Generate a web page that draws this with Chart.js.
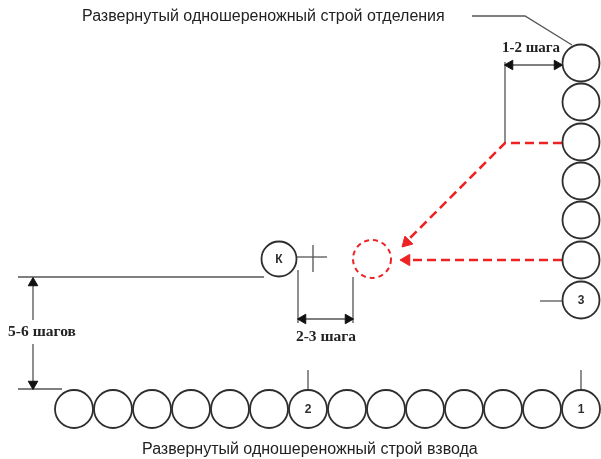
<!DOCTYPE html>
<html>
<head>
<meta charset="utf-8">
<script src="https://cdn.jsdelivr.net/npm/chart.js@4/dist/chart.umd.min.js"></script>
<style>
  html, body { margin: 0; padding: 0; background: #ffffff; }
  #wrap { width: 601px; height: 459px; position: relative; }
</style>
</head>
<body>
<div id="wrap"><canvas id="c"></canvas></div>
<script>
// ---- Data (diagram units = picture pixels) ----
const platoonX = [74, 113, 152, 191, 230, 269, 308, 347, 386, 425, 464, 503, 542, 581];
const platoonY = [409, 409, 409, 409, 409, 409, 409, 409, 409, 409, 409, 409, 409, 409];
const platoonLabels = ["", "", "", "", "", "", "2", "", "", "", "", "", "", "1"];

const squadX = [581, 581, 581, 581, 581, 581, 581];
const squadY = [63, 102, 142, 181, 220, 260, 300];
const squadLabels = ["", "", "", "", "", "", "3"];

const leaderX = [279];
const leaderY = [259];
const leaderLabels = ["К"];

const targetX = [372];
const targetY = [259];

// Black guide lines: each entry is a polyline [[x,y],[x,y],...]
const blackLines = [
  [[472, 16], [525, 16], [572, 45]],
  [[505, 62], [505, 142]],
  [[505, 65], [562, 65]],
  [[540, 301], [562, 301]],
  [[18, 277], [264, 277]],
  [[297, 257], [327, 257]],
  [[313, 245], [313, 272]],
  [[298, 270], [298, 323]],
  [[353, 277], [353, 323]],
  [[298, 319], [353, 319]],
  [[33, 278], [33, 320]],
  [[33, 344], [33, 388]],
  [[18, 389], [62, 389]],
  [[308, 370], [308, 390]],
  [[581, 370], [581, 390]]
];
// Red movement paths
const redLines = [
  [[562, 143], [505, 143], [405, 243]],
  [[562, 260], [404, 260]]
];
// Arrow heads: [x, y, rotation in degrees]
const blackHeads = [[510, 65, 270], [557, 65, 90], [303, 319, 270], [348, 319, 90], [33, 283, 0], [33, 384, 180]];
const redHeads = [[406.6, 242.4, 225], [406.5, 260, 270]];

// Text labels
const labelTexts = [
  "Развернутый одношереножный строй отделения",
  "Развернутый одношереножный строй взвода",
  "1-2 шага",
  "2-3 шага",
  "5-6 шагов"
];
const labelX = [82, 142, 531, 326, 42];
const labelY = [17, 450, 48, 337, 332];
const labelAlign = ["left", "left", "center", "center", "center"];
const labelFont = [
  "16px 'Liberation Sans', Arial, sans-serif",
  "16px 'Liberation Sans', Arial, sans-serif",
  "bold 15px 'Liberation Serif', 'Times New Roman', serif",
  "bold 15.5px 'Liberation Serif', 'Times New Roman', serif",
  "bold 15.5px 'Liberation Serif', 'Times New Roman', serif"
];

// ---- Styles ----
const INK = '#2e2e2e';
const LINE = '#555555';
const RED = '#ee2222';

function pts(xs, ys) { return xs.map((x, i) => ({ x: x, y: ys[i] })); }

const datasets = [];
datasets.push({ label: 'platoon', data: pts(platoonX, platoonY), pointRadius: 19, pointBorderWidth: 1.8,
  pointBorderColor: INK, pointBackgroundColor: '#ffffff', showLine: false, circleLabels: platoonLabels });
datasets.push({ label: 'squad', data: pts(squadX, squadY), pointRadius: 18.5, pointBorderWidth: 1.8,
  pointBorderColor: INK, pointBackgroundColor: '#ffffff', showLine: false, circleLabels: squadLabels });
datasets.push({ label: 'leader', data: pts(leaderX, leaderY), pointRadius: 17.5, pointBorderWidth: 1.8,
  pointBorderColor: INK, pointBackgroundColor: '#ffffff', showLine: false, circleLabels: leaderLabels });
datasets.push({ label: 'target', data: pts(targetX, targetY), pointRadius: 19, pointBorderWidth: 2,
  pointBorderColor: RED, pointBackgroundColor: 'rgba(255,255,255,0)', showLine: false, dashedPoints: [5, 4] });

datasets.push({ label: 'redHeads', data: redHeads.map(h => ({ x: h[0], y: h[1] })), pointStyle: 'triangle',
  pointRadius: 6.5, pointRotation: redHeads.map(h => h[2]), pointBackgroundColor: RED, pointBorderColor: RED,
  pointBorderWidth: 1, showLine: false });
datasets.push({ label: 'blackHeads', data: blackHeads.map(h => ({ x: h[0], y: h[1] })), pointStyle: 'triangle',
  pointRadius: 5.5, pointRotation: blackHeads.map(h => h[2]), pointBackgroundColor: '#111', pointBorderColor: '#111',
  pointBorderWidth: 1, showLine: false });

redLines.forEach((pl, i) => datasets.push({ label: 'red' + i, data: pl.map(p => ({ x: p[0], y: p[1] })),
  showLine: true, borderColor: RED, borderWidth: 2.6, borderDash: [9, 5], pointRadius: 0, tension: 0,
  borderJoinStyle: 'miter' }));
blackLines.forEach((pl, i) => datasets.push({ label: 'black' + i, data: pl.map(p => ({ x: p[0], y: p[1] })),
  showLine: true, borderColor: LINE, borderWidth: 1.3, pointRadius: 0, tension: 0 }));

const dashPlugin = {
  id: 'dashPoints',
  beforeDatasetDraw(chart, args) {
    const ds = chart.data.datasets[args.index];
    chart.ctx.save();
    if (ds.dashedPoints) chart.ctx.setLineDash(ds.dashedPoints);
  },
  afterDatasetDraw(chart) { chart.ctx.restore(); }
};

const textPlugin = {
  id: 'texts',
  afterDatasetsDraw(chart) {
    const ctx = chart.ctx;
    const xs = chart.scales.x, ys = chart.scales.y;
    ctx.save();
    chart.data.datasets.forEach((ds, di) => {
      if (!ds.circleLabels) return;
      const meta = chart.getDatasetMeta(di);
      meta.data.forEach((el, i) => {
        const t = ds.circleLabels[i];
        if (!t) return;
        ctx.font = "bold 12px 'Liberation Sans', Arial, sans-serif";
        ctx.fillStyle = INK;
        ctx.textAlign = 'center';
        ctx.textBaseline = 'middle';
        ctx.fillText(t, el.x, el.y + 0.5);
      });
    });
    labelTexts.forEach((t, i) => {
      ctx.font = labelFont[i];
      ctx.fillStyle = '#222222';
      ctx.textAlign = labelAlign[i];
      ctx.textBaseline = 'middle';
      ctx.fillText(t, xs.getPixelForValue(labelX[i]), ys.getPixelForValue(labelY[i]));
    });
    ctx.restore();
  }
};

new Chart(document.getElementById('c'), {
  type: 'scatter',
  data: { datasets: datasets },
  options: {
    responsive: true,
    maintainAspectRatio: false,
    animation: false,
    events: [],
    layout: { padding: 0, autoPadding: false },
    clip: false,
    plugins: { legend: { display: false }, tooltip: { enabled: false } },
    scales: {
      x: { type: 'linear', min: 0, max: 601, display: false },
      y: { type: 'linear', min: 0, max: 459, reverse: true, display: false }
    }
  },
  plugins: [dashPlugin, textPlugin]
});
</script>
</body>
</html>
